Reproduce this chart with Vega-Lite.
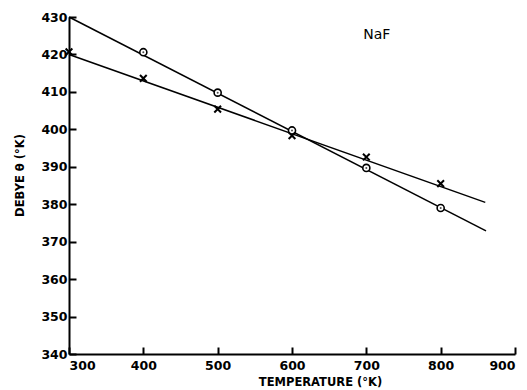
{
  "$schema": "https://vega.github.io/schema/vega-lite/v6.json",
  "width": 446,
  "height": 337,
  "autosize": {"type": "none"},
  "padding": {"left": 69, "top": 17, "right": 12, "bottom": 36},
  "background": "white",
  "config": {
    "view": {"stroke": null},
    "axis": {
      "grid": false,
      "domainColor": "black",
      "domainWidth": 2,
      "tickColor": "black",
      "tickWidth": 2,
      "tickSize": -7,
      "labelColor": "black",
      "labelFont": "DejaVu Sans",
      "labelFontWeight": "bold",
      "labelFontSize": 12.5,
      "titleColor": "black",
      "titleFont": "DejaVu Sans",
      "titleFontWeight": "bold",
      "titleFontSize": 11.5
    }
  },
  "datasets": {
    "lines": [
      {"series": "circle", "t": 300, "theta": 430},
      {"series": "circle", "t": 861, "theta": 372.9},
      {"series": "cross", "t": 300, "theta": 420},
      {"series": "cross", "t": 860, "theta": 380.5}
    ],
    "circles": [
      {"t": 400, "theta": 420.6},
      {"t": 500, "theta": 409.8},
      {"t": 600, "theta": 399.7},
      {"t": 700, "theta": 389.7},
      {"t": 800, "theta": 379.0}
    ],
    "crosses": [
      {"t": 300, "theta": 420.7},
      {"t": 400, "theta": 413.6},
      {"t": 500, "theta": 405.4},
      {"t": 600, "theta": 398.3},
      {"t": 700, "theta": 392.6},
      {"t": 800, "theta": 385.5}
    ],
    "label": [{"t": 714, "theta": 425.2, "text": "NaF"}]
  },
  "encoding": {
    "x": {
      "field": "t", "type": "quantitative",
      "scale": {"domain": [300, 900], "nice": false, "zero": false},
      "axis": {
        "values": [300, 400, 500, 600, 700, 800, 900],
        "labelOverlap": false,
        "title": "TEMPERATURE  (°K)",
        "labelPadding": 12,
        "titlePadding": 5,
        "titleX": 251
      }
    },
    "y": {
      "field": "theta", "type": "quantitative",
      "scale": {"domain": [340, 430], "nice": false, "zero": false},
      "axis": {
        "values": [340, 350, 360, 370, 380, 390, 400, 410, 420, 430],
        "labelOverlap": false,
        "labelFlush": false,
        "title": "DEBYE  θ (°K)",
        "labelPadding": 9,
        "titleX": -44,
        "titleY": 158
      }
    }
  },
  "layer": [
    {
      "data": {"name": "lines"},
      "mark": {"type": "line", "color": "black", "strokeWidth": 1.5},
      "encoding": {
        "detail": {"field": "series"}
      }
    },
    {
      "data": {"name": "circles"},
      "mark": {"type": "point", "shape": "circle", "filled": false, "color": "black", "strokeWidth": 1.6, "size": 50, "fill": "white", "fillOpacity": 1},
      "encoding": {}
    },
    {
      "data": {"name": "circles"},
      "mark": {"type": "point", "shape": "circle", "filled": true, "color": "black", "size": 4},
      "encoding": {}
    },
    {
      "data": {"name": "crosses"},
      "mark": {"type": "point", "shape": "M-1,-1L1,1M1,-1L-1,1", "filled": false, "color": "black", "opacity": 1, "strokeWidth": 2, "size": 45},
      "encoding": {}
    },
    {
      "data": {"name": "label"},
      "mark": {"type": "text", "font": "DejaVu Sans", "fontSize": 14, "color": "black"},
      "encoding": {
        "text": {"field": "text"}
      }
    }
  ]
}
